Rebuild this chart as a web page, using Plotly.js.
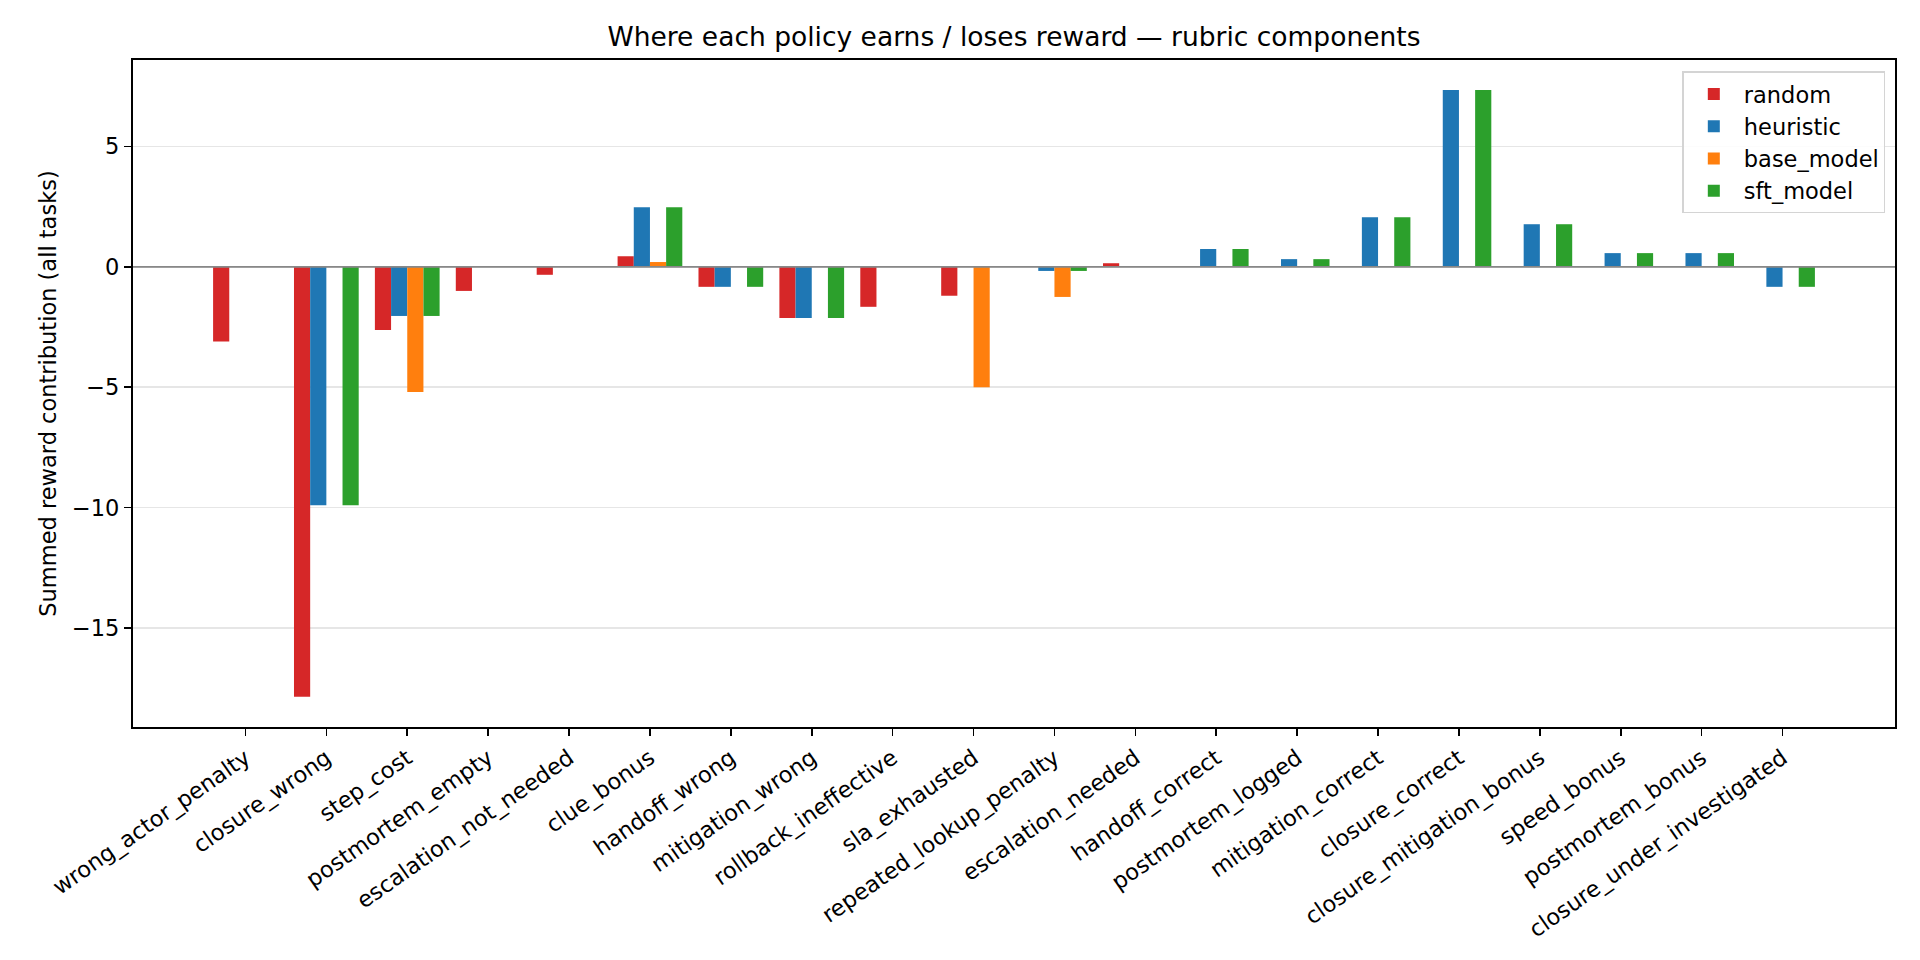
<!DOCTYPE html>
<html>
<head>
<meta charset="utf-8">
<script src="https://cdn.plot.ly/plotly-3.0.1.min.js"></script>
<style>html,body{margin:0;padding:0;background:#fff;}#chart{width:1920px;height:960px;}</style>
</head>
<body>
<div id="chart"></div>
<script>
const categories = ["wrong_actor_penalty","closure_wrong","step_cost","postmortem_empty","escalation_not_needed","clue_bonus","handoff_wrong","mitigation_wrong","rollback_ineffective","sla_exhausted","repeated_lookup_penalty","escalation_needed","handoff_correct","postmortem_logged","mitigation_correct","closure_correct","closure_mitigation_bonus","speed_bonus","postmortem_bonus","closure_under_investigated"];
const seriesNames = ["random","heuristic","base_model","sft_model"];
const randomVals    = [-3.1, -17.85, -2.62, -1.0, -0.33, 0.44, -0.83, -2.12, -1.66, -1.2, 0, 0.15, 0, 0, 0, 0, 0, 0, 0, 0];
const heuristicVals = [0, -9.9, -2.04, 0, 0, 2.48, -0.83, -2.12, 0, 0, -0.17, 0, 0.74, 0.32, 2.06, 7.34, 1.77, 0.57, 0.57, -0.83];
const baseModelVals = [0, 0, -5.2, 0, 0, 0.2, 0, 0, 0, -5.0, -1.25, 0, 0, 0, 0, 0, 0, 0, 0, 0];
const sftModelVals  = [0, -9.9, -2.04, 0, 0, 2.48, -0.83, -2.12, 0, 0, -0.17, 0, 0.74, 0.32, 2.06, 7.34, 1.77, 0.57, 0.57, -0.83];
const colors = ["#d62728","#1f77b4","#ff7f0e","#2ca02c"];
const values = [randomVals, heuristicVals, baseModelVals, sftModelVals];
const idx = categories.map((c,i)=>i);

const font = "DejaVu Sans, sans-serif";
const fs = 22.5;
const traces = values.map((v,k)=>({
  type:"bar", name:seriesNames[k], x:idx, y:v,
  marker:{color:colors[k], line:{width:0}}, hoverinfo:"skip"
}));

const layout = {
  width:1920, height:960,
  paper_bgcolor:"#fff", plot_bgcolor:"#fff",
  font:{family:font, size:fs, color:"#000"},
  margin:{l:133, r:25, t:60, b:233, pad:0},
  barmode:"group", bargap:0.2, bargroupgap:0,
  title:{text:"Where each policy earns / loses reward — rubric components",
    font:{family:font, size:26.5, color:"#000"},
    x:0.5, xref:"paper", y:1-37/960, yref:"container", xanchor:"center", yanchor:"middle"},
  xaxis:{
    range:[-1.39, 20.39], tickmode:"array", tickvals:idx, ticktext:categories,
    tickangle:-35, ticks:"outside", ticklen:7.5, tickwidth:1.6, tickcolor:"#000",
    showline:true, linecolor:"#000", linewidth:1.6, mirror:true,
    showgrid:false, zeroline:false, tickfont:{family:font, size:fs, color:"#000"}
  },
  yaxis:{
    range:[-19.11, 8.59], tickmode:"array", tickvals:[-15,-10,-5,0,5],
    ticktext:["\u221215","\u221210","\u22125","0","5"],
    ticks:"outside", ticklen:7.5, tickwidth:1.6, tickcolor:"#000",
    showline:true, linecolor:"#000", linewidth:1.6, mirror:true,
    showgrid:true, gridcolor:"#e6e6e6", gridwidth:1.5, zeroline:false,
    tickfont:{family:font, size:fs, color:"#000"},
    title:{text:"Summed reward contribution (all tasks)", font:{family:font, size:fs, color:"#000"}, standoff:9}
  },
  showlegend:true,
  legend:{x:0.9945, y:0.983, xanchor:"right", yanchor:"top",
    bgcolor:"rgba(255,255,255,0.85)", bordercolor:"#d4d4d4", borderwidth:1.5,
    font:{family:font, size:fs, color:"#000"}, itemwidth:50, tracegroupgap:0},
  shapes:[{type:"line", xref:"paper", x0:0, x1:1, yref:"y", y0:0, y1:0,
    line:{color:"#888888", width:1.8}, layer:"above"}]
};
Plotly.newPlot("chart", traces, layout, {staticPlot:true, displayModeBar:false});
</script>
</body>
</html>
